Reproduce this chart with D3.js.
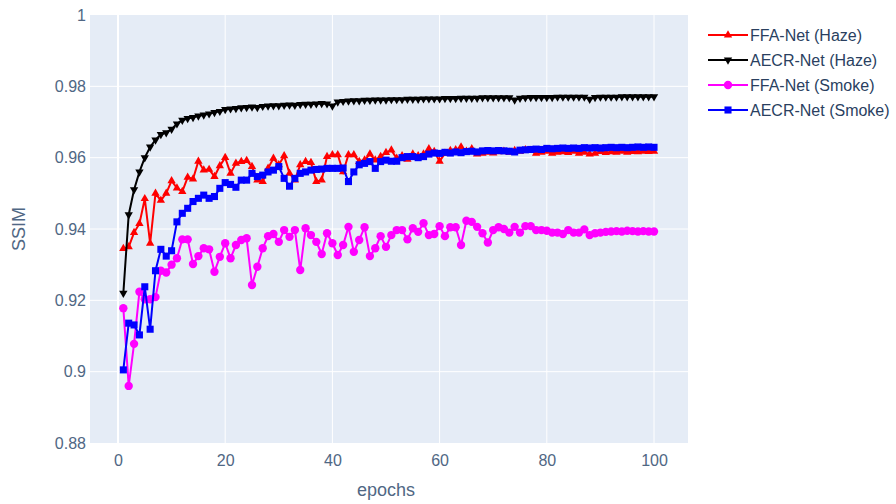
<!DOCTYPE html>
<html>
<head>
<meta charset="utf-8">
<script src="https://cdn.jsdelivr.net/npm/d3@7"></script>
<style>
  body { margin: 0; background: #fff; }
  text { font-family: "Liberation Sans", Arial, sans-serif; }
</style>
</head>
<body>
<div id="chart"></div>
<script>
// epochs on the x axis
const epochs = d3.range(1, 101);

const ffaHaze = [
  0.9345, 0.935, 0.939, 0.9415, 0.9485, 0.936, 0.950, 0.948, 0.950, 0.9535,
  0.9515, 0.9505, 0.9545, 0.954, 0.959, 0.9565, 0.9567, 0.9547, 0.9577, 0.960,
  0.9556, 0.9584, 0.9589, 0.9592, 0.9575, 0.9537, 0.9533, 0.957, 0.9598, 0.958,
  0.9605, 0.9556, 0.9537, 0.958, 0.9589, 0.9586, 0.9533, 0.9537, 0.9603, 0.9608,
  0.9608, 0.956, 0.9608, 0.9608, 0.9589, 0.9593, 0.961, 0.9593, 0.9603, 0.9614,
  0.9621, 0.9598, 0.9605, 0.9595, 0.961, 0.9605, 0.961, 0.9625, 0.9617, 0.959,
  0.9612, 0.962, 0.9622, 0.963, 0.9618, 0.9625, 0.961, 0.9612, 0.9615, 0.9613,
  0.9616, 0.9618, 0.9615, 0.962, 0.9618, 0.9622, 0.962, 0.9612, 0.9615, 0.9618,
  0.9612, 0.9615, 0.9616, 0.9614, 0.9618, 0.9612, 0.9615, 0.961, 0.9612, 0.9617,
  0.9614, 0.9616, 0.9615, 0.9618, 0.9615, 0.9617, 0.9616, 0.9618, 0.9617, 0.9618
];

const aecrHaze = [
  0.922, 0.944, 0.951, 0.956, 0.960, 0.963, 0.965, 0.9665, 0.967, 0.968,
  0.9695, 0.9705, 0.971, 0.9713, 0.9717, 0.972, 0.9723, 0.9727, 0.973, 0.9735,
  0.9737, 0.9738, 0.974, 0.9741, 0.9742, 0.9741, 0.9744, 0.9745, 0.9746, 0.9746,
  0.9747, 0.9748, 0.9747, 0.9749, 0.975, 0.975, 0.9751, 0.9752, 0.9751, 0.9745,
  0.9756, 0.9758, 0.9759, 0.976, 0.976, 0.9761, 0.9761, 0.9762, 0.9762, 0.9762,
  0.9763, 0.9763, 0.9763, 0.9764, 0.9764, 0.9764, 0.9765, 0.9765, 0.9765, 0.9765,
  0.9766, 0.9766, 0.9766, 0.9767, 0.9767, 0.9767, 0.9767, 0.9768, 0.9768, 0.9768,
  0.9768, 0.9768, 0.9768, 0.9762, 0.9767, 0.9768, 0.9769, 0.9769, 0.9769, 0.9769,
  0.9769, 0.977, 0.977, 0.977, 0.977, 0.977, 0.977, 0.9764, 0.9769, 0.977,
  0.977, 0.977, 0.977, 0.9771, 0.9771, 0.9771, 0.9771, 0.9771, 0.9771, 0.9771
];

const ffaSmoke = [
  0.9178, 0.896, 0.9078, 0.9224, 0.9203, 0.9203, 0.9209, 0.9283, 0.9278, 0.930,
  0.9318, 0.9371, 0.9371, 0.9302, 0.9324, 0.9346, 0.9343, 0.928, 0.9322, 0.936,
  0.9318, 0.9355, 0.9369, 0.9374, 0.9243, 0.9294, 0.9346, 0.938, 0.9386, 0.9364,
  0.9397, 0.9378, 0.9397, 0.9285, 0.9402, 0.9383, 0.9364, 0.933, 0.9388, 0.936,
  0.9327, 0.9355, 0.9406, 0.9336, 0.9369, 0.9405, 0.9324, 0.9346, 0.938, 0.935,
  0.9383, 0.9397, 0.9397, 0.9371, 0.9402, 0.9392, 0.9416, 0.9383, 0.9386, 0.9408,
  0.938, 0.9405, 0.9405, 0.9355, 0.9423, 0.942, 0.9406, 0.9388, 0.9362, 0.9397,
  0.9405, 0.94, 0.939, 0.9406, 0.939, 0.9408, 0.9408, 0.9397, 0.9397, 0.9395,
  0.939, 0.939, 0.9386, 0.9397, 0.939, 0.939, 0.9399, 0.9383, 0.9388, 0.939,
  0.9392, 0.9393, 0.9394, 0.9393, 0.9395, 0.9394, 0.9393, 0.9394, 0.9393, 0.9393
];

const aecrSmoke = [
  0.9005, 0.9136, 0.9131, 0.9103, 0.9238, 0.9119, 0.9283, 0.9343, 0.9324, 0.9339,
  0.942, 0.9444, 0.9458, 0.9477, 0.9486, 0.9495, 0.9486, 0.9491, 0.9514, 0.953,
  0.9525, 0.9517, 0.9537, 0.9537, 0.9556, 0.9547, 0.9551, 0.956, 0.9565, 0.9575,
  0.9542, 0.952, 0.9542, 0.9556, 0.956, 0.9565, 0.9567, 0.9568, 0.957, 0.957,
  0.957, 0.9571, 0.9533, 0.956, 0.958, 0.9584, 0.9589, 0.957, 0.9589, 0.9593,
  0.959, 0.959, 0.96, 0.9603, 0.9603, 0.96, 0.9603, 0.961, 0.9613, 0.9612,
  0.9615, 0.9613, 0.9616, 0.9614, 0.9617, 0.9618, 0.9616, 0.9619, 0.962, 0.9619,
  0.962, 0.9619, 0.9618, 0.9616, 0.9621, 0.9622, 0.9623, 0.9624, 0.9623, 0.9626,
  0.9625, 0.9626, 0.9627, 0.9626, 0.9627, 0.9626, 0.9628, 0.9627, 0.9628, 0.9627,
  0.9628, 0.9629, 0.9628, 0.9629, 0.9628, 0.9629, 0.963, 0.9629, 0.963, 0.9629
];

const yTicks = [0.88, 0.9, 0.92, 0.94, 0.96, 0.98, 1];
const xTicks = [0, 20, 40, 60, 80, 100];

const series = [
  { name: "FFA-Net (Haze)", values: ffaHaze, color: "#ff0000", symbol: "triangleUp" },
  { name: "AECR-Net (Haze)", values: aecrHaze, color: "#000000", symbol: "triangleDown" },
  { name: "FFA-Net (Smoke)", values: ffaSmoke, color: "#ff00ff", symbol: "circle" },
  { name: "AECR-Net (Smoke)", values: aecrSmoke, color: "#0000ff", symbol: "square" }
];

const svgWidth = 896, svgHeight = 504;
const margin = { top: 15, right: 208, bottom: 61, left: 90 };
const width = svgWidth - margin.left - margin.right;
const height = svgHeight - margin.top - margin.bottom;

const svg = d3.select("#chart").append("svg")
  .attr("width", svgWidth)
  .attr("height", svgHeight);

const g = svg.append("g").attr("transform", `translate(${margin.left},${margin.top})`);

const xScale = d3.scaleLinear().domain([-5.22, 106.34]).range([0, width]);
const yScale = d3.scaleLinear().domain([0.88, 1]).range([height, 0]);

// background
g.append("rect").attr("width", width).attr("height", height).attr("fill", "#e5ecf6");

// grid
g.append("g").selectAll("line").data(yTicks.slice(1, -1)).enter().append("line")
  .attr("x1", 0).attr("x2", width)
  .attr("y1", d => yScale(d)).attr("y2", d => yScale(d))
  .attr("stroke", "#fff").attr("stroke-width", 1);
g.append("g").selectAll("line").data(xTicks).enter().append("line")
  .attr("y1", 0).attr("y2", height)
  .attr("x1", d => xScale(d)).attr("x2", d => xScale(d))
  .attr("stroke", "#fff").attr("stroke-width", d => d === 0 ? 2 : 1);

// axes (labels only, plotly style)
const xAxis = g.append("g")
  .attr("transform", `translate(0,${height})`)
  .call(d3.axisBottom(xScale).tickValues(xTicks).tickSize(0).tickPadding(12));
const yAxis = g.append("g")
  .call(d3.axisLeft(yScale).tickValues(yTicks).tickSize(0).tickPadding(4)
    .tickFormat(d => String(+d.toFixed(2))));
[xAxis, yAxis].forEach(a => {
  a.select(".domain").remove();
  a.selectAll("text")
    .attr("font-size", "16px")
    .attr("font-family", "'Liberation Sans', Arial, sans-serif")
    .attr("fill", "#506784");
});

// axis titles
svg.append("text")
  .attr("x", margin.left + xScale(50)).attr("y", 496)
  .attr("text-anchor", "middle")
  .attr("font-size", "18px").attr("fill", "#506784")
  .text("epochs");
svg.append("text")
  .attr("transform", `translate(25,${margin.top + height / 2}) rotate(-90)`)
  .attr("text-anchor", "middle")
  .attr("font-size", "18px").attr("fill", "#506784")
  .text("SSIM");

const symbols = {
  triangleUp: d3.symbol().type(d3.symbolTriangle).size(30),
  triangleDown: d3.symbol().type(d3.symbolTriangle).size(30),
  circle: d3.symbol().type(d3.symbolCircle).size(55),
  square: d3.symbol().type(d3.symbolSquare).size(50)
};

const line = d3.line()
  .x((d, i) => xScale(epochs[i]))
  .y(d => yScale(d));

const plot = g.append("g");
series.forEach(s => {
  plot.append("path")
    .attr("d", line(s.values))
    .attr("fill", "none")
    .attr("stroke", s.color)
    .attr("stroke-width", 2);
  plot.append("g").selectAll("path").data(s.values).enter().append("path")
    .attr("d", symbols[s.symbol]())
    .attr("transform", (d, i) => `translate(${xScale(epochs[i])},${yScale(d)})` +
      (s.symbol === "triangleDown" ? " rotate(180)" : ""))
    .attr("fill", s.color);
});

// legend
const legend = svg.append("g").attr("transform", "translate(708,35)");
series.forEach((s, i) => {
  const row = legend.append("g").attr("transform", `translate(0,${i * 25})`);
  row.append("line").attr("x1", 0).attr("x2", 40).attr("y1", 0).attr("y2", 0)
    .attr("stroke", s.color).attr("stroke-width", 2);
  row.append("path")
    .attr("d", symbols[s.symbol]())
    .attr("transform", "translate(20,0)" + (s.symbol === "triangleDown" ? " rotate(180)" : ""))
    .attr("fill", s.color);
  row.append("text")
    .attr("x", 42).attr("y", 0).attr("dy", "0.35em")
    .attr("font-size", "16px").attr("fill", "#2a3f5f")
    .text(s.name);
});
</script>
</body>
</html>
